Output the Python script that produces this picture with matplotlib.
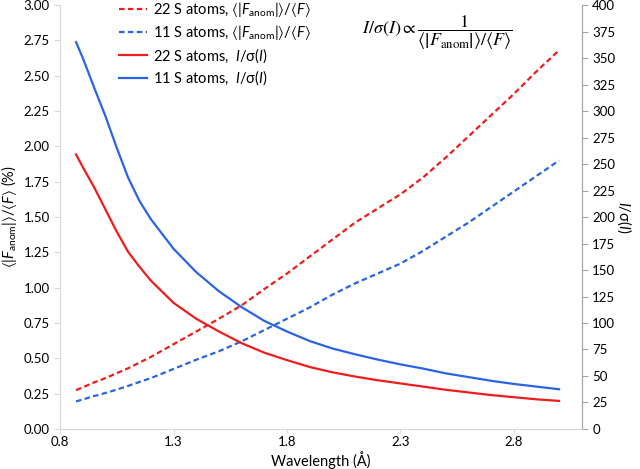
import matplotlib
matplotlib.use('Agg')
import matplotlib.pyplot as plt
from matplotlib.ticker import FormatStrFormatter

plt.rcParams['font.family'] = ['Lato', 'DejaVu Sans']
plt.rcParams['mathtext.fontset'] = 'custom'
plt.rcParams['mathtext.rm'] = 'Lato'
plt.rcParams['mathtext.it'] = 'Lato:italic'
plt.rcParams['mathtext.fallback'] = 'stixsans'

# wavelength (A)
wl = [0.87, 0.90, 0.95, 1.00, 1.05, 1.10, 1.15, 1.20, 1.30, 1.40, 1.50, 1.60,
      1.70, 1.80, 1.90, 2.00, 2.10, 2.20, 2.30, 2.40, 2.50, 2.60, 2.70, 2.80,
      2.90, 3.00]

# <|F_anom|>/<F> (%)
anom_22 = [0.275, 0.295, 0.330, 0.360, 0.395, 0.430, 0.470, 0.510, 0.600, 0.690,
           0.780, 0.875, 0.990, 1.100, 1.220, 1.340, 1.460, 1.560, 1.660, 1.780,
           1.920, 2.070, 2.220, 2.370, 2.530, 2.680]
anom_11 = [0.195, 0.209, 0.233, 0.255, 0.279, 0.305, 0.333, 0.360, 0.425, 0.490,
           0.550, 0.620, 0.700, 0.780, 0.860, 0.950, 1.030, 1.100, 1.170, 1.260,
           1.360, 1.460, 1.570, 1.680, 1.790, 1.900]

# I/sigma(I)
isig_22 = [259, 247, 228, 207, 186, 167, 153, 140, 119, 104, 92, 81, 72, 65,
           58.5, 53.5, 49.5, 46, 43, 40, 37, 34.5, 32, 30, 28, 26.5]
isig_11 = [365, 350, 322, 295, 265, 237, 215, 198, 170, 148, 130, 115, 102, 92,
           83, 76, 70.5, 65.5, 61, 57, 52.5, 49, 45.5, 42.5, 40, 37.5]

xticks = [0.8, 1.3, 1.8, 2.3, 2.8]

red = '#ee1c1c'
blue = '#2a64e4'
light = '#d9d9d9'
mid = '#a6a6a6'

fig = plt.figure(figsize=(6.4, 4.69), dpi=100)
ax = fig.add_axes([0.094, 0.0853, 0.815, 0.904])
ax2 = ax.twinx()

dash = (0, (2.5, 1.5))
l1, = ax.plot(wl, anom_22, color=red, lw=1.6, linestyle=dash,
              label=r'22 S atoms, $\langle|F_{\mathrm{anom}}|\rangle/\langle F\rangle$')
l2, = ax.plot(wl, anom_11, color=blue, lw=1.6, linestyle=dash,
              label=r'11 S atoms, $\langle|F_{\mathrm{anom}}|\rangle/\langle F\rangle$')
l3, = ax2.plot(wl, isig_22, color=red, lw=1.6,
               label=r'22 S atoms,  $I$/σ($I$)')
l4, = ax2.plot(wl, isig_11, color=blue, lw=1.6,
               label=r'11 S atoms,  $I$/σ($I$)')

ax.set_xlim(0.8, 3.1)
ax.set_ylim(0, 3.0)
ax2.set_ylim(0, 400)
ax.set_xticks(xticks)
ax.set_yticks([i * 0.25 for i in range(13)])
ax2.set_yticks(range(0, 401, 25))
ax.yaxis.set_major_formatter(FormatStrFormatter('%.2f'))
ax.xaxis.set_major_formatter(FormatStrFormatter('%.1f'))

for a in (ax, ax2):
    a.spines['top'].set_visible(False)
    a.spines['left'].set_color(light)
    a.spines['bottom'].set_color(light)
    a.spines['right'].set_color(mid)
ax.tick_params(axis='y', colors=light, labelcolor='black', labelsize=9.5, length=4)
ax.tick_params(axis='x', colors=light, labelcolor='black', labelsize=9.5, length=3, pad=2)
ax2.tick_params(axis='y', colors=mid, labelcolor='black', labelsize=9.5, length=4)

ax.set_xlabel('Wavelength (Å)', fontsize=10.5, labelpad=2)
ax.set_ylabel(r'$\langle|F_{\mathrm{anom}}|\rangle/\langle F\rangle$ (%)', fontsize=10.5)
ax.yaxis.set_label_coords(-0.078, 0.5)
ax2.set_ylabel(r'$I$/σ($I$)', fontsize=10.5, rotation=270, va='bottom')
ax2.yaxis.set_label_coords(1.064, 0.5)

ax.legend(handles=[l1, l2, l3, l4], loc='upper left', bbox_to_anchor=(0.088, 1.043),
          frameon=False, fontsize=10.5, handlelength=1.9, handletextpad=0.45,
          labelspacing=0.28)

ax.text(0.868, 0.935,
        r'$I/\sigma\left(I\right) \propto \dfrac{1}{\left\langle\left|F_{\mathrm{anom}}\right|\right\rangle/\left\langle F\right\rangle}$',
        transform=ax.transAxes, ha='right', va='center', fontsize=13,
        math_fontfamily='stix')

fig.savefig('out.png', dpi=100)
